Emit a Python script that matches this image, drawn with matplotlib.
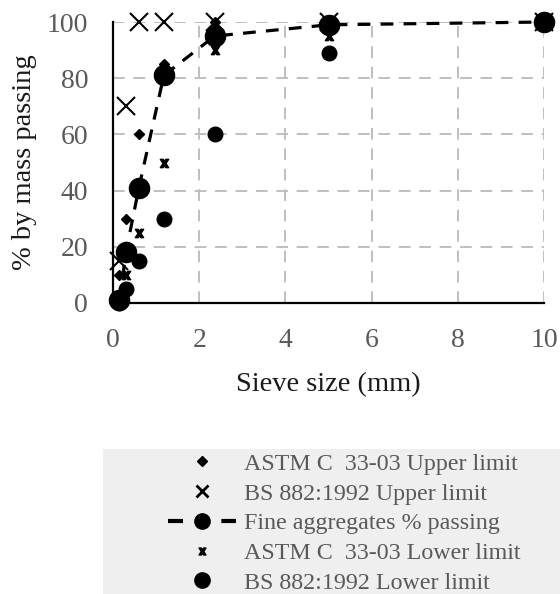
import matplotlib
matplotlib.use("Agg")
import matplotlib.pyplot as plt
from matplotlib.path import Path
from matplotlib.patches import Rectangle
from matplotlib.lines import Line2D

plt.rcParams['font.family'] = ['Liberation Serif', 'DejaVu Serif']

# Data
sieve = [0.15, 0.3, 0.6, 1.18, 2.36, 5, 10]
astm_upper = [10, 30, 60, 85, 100, 100, 100]
bs_upper = [15, 70, 100, 100, 100, 100, 100]
fine_agg = [1, 18, 41, 81, 95, 99, 100]
astm_lower = [2, 10, 25, 50, 90, 95, 100]
bs_lower = [0, 5, 15, 30, 60, 89, 100]

labels = ["ASTM C  33-03 Upper limit", "BS 882:1992 Upper limit",
          "Fine aggregates % passing", "ASTM C  33-03 Lower limit",
          "BS 882:1992 Lower limit"]

bowtie = Path([(-1, 1), (-0.3, 1), (0, 0.45), (0.3, 1), (1, 1), (0.35, 0),
               (1, -1), (0.3, -1), (0, -0.45), (-0.3, -1), (-1, -1), (-0.35, 0), (-1, 1)],
              [Path.MOVETO] + [Path.LINETO] * 11 + [Path.CLOSEPOLY])

fig = plt.figure(figsize=(5.6, 5.94), dpi=100)
fig.patches.append(Rectangle((103/560, 0), 1 - 103/560, 1 - 449/594,
                             transform=fig.transFigure, facecolor='#efefef',
                             edgecolor='none', zorder=0))
ax = fig.add_axes([113/560, 1-303/594, (544-113)/560, (303-22)/594])

fine_ls = (0, (4.0, 3.2))
h1, = ax.plot(sieve, astm_upper, linestyle='none', marker='D', ms=5, color='black')
h2, = ax.plot(sieve, bs_upper, linestyle='none', marker='x', ms=12.5, mew=1.5, color='black')
h3, = ax.plot(sieve, fine_agg, linestyle=fine_ls, lw=2.3, marker='o', ms=14.5, color='black')
h4, = ax.plot(sieve, astm_lower, linestyle='none', marker=bowtie, ms=6, color='black')
h5, = ax.plot(sieve, bs_lower, linestyle='none', marker='o', ms=10.5, color='black')

ax.set_xlim(0, 10)
ax.set_ylim(0, 100)
ax.set_xticks([0, 2, 4, 6, 8, 10])
ax.set_yticks([0, 20, 40, 60, 80, 100])
ax.grid(True, color='#bfbfbf', linestyle=(0, (6, 4.5)), lw=1.4)
ax.set_axisbelow(True)
for s in ['top', 'right']:
    ax.spines[s].set_visible(False)
for s in ['left', 'bottom']:
    ax.spines[s].set_linewidth(1.6)
    ax.spines[s].set_color('black')
ax.tick_params(axis='both', length=0, labelsize=20, labelcolor='#595959', pad=18)
ax.set_xlabel("Sieve size (mm)", fontsize=20.5, color='#1a1a1a', labelpad=14)
ax.set_ylabel("% by mass passing", fontsize=20.5, color='#1a1a1a', labelpad=7)
for h in [h1, h2, h3, h4, h5]:
    h.set_clip_on(False)

# legend proxies (smaller markers as in the reference legend)
p1 = Line2D([], [], linestyle='none', marker='D', ms=5, color='black')
p2 = Line2D([], [], linestyle='none', marker='x', ms=9, mew=2.0, color='black')
p3 = Line2D([], [], linestyle=(0, (3.6, 9.2)), lw=3.0, marker='o', ms=11, color='black')
p4 = Line2D([], [], linestyle='none', marker=bowtie, ms=5, color='black')
p5 = Line2D([], [], linestyle='none', marker='o', ms=11, color='black')

leg = fig.legend([p1, p2, p3, p4, p5], labels, loc='upper left',
                 bbox_to_anchor=(168/560, 1-453/594), frameon=False, fontsize=17.3,
                 handlelength=2.85, handletextpad=0.3, labelspacing=0.33,
                 borderpad=0, borderaxespad=0, labelcolor='#595959')

fig.savefig("out.png", dpi=100)
